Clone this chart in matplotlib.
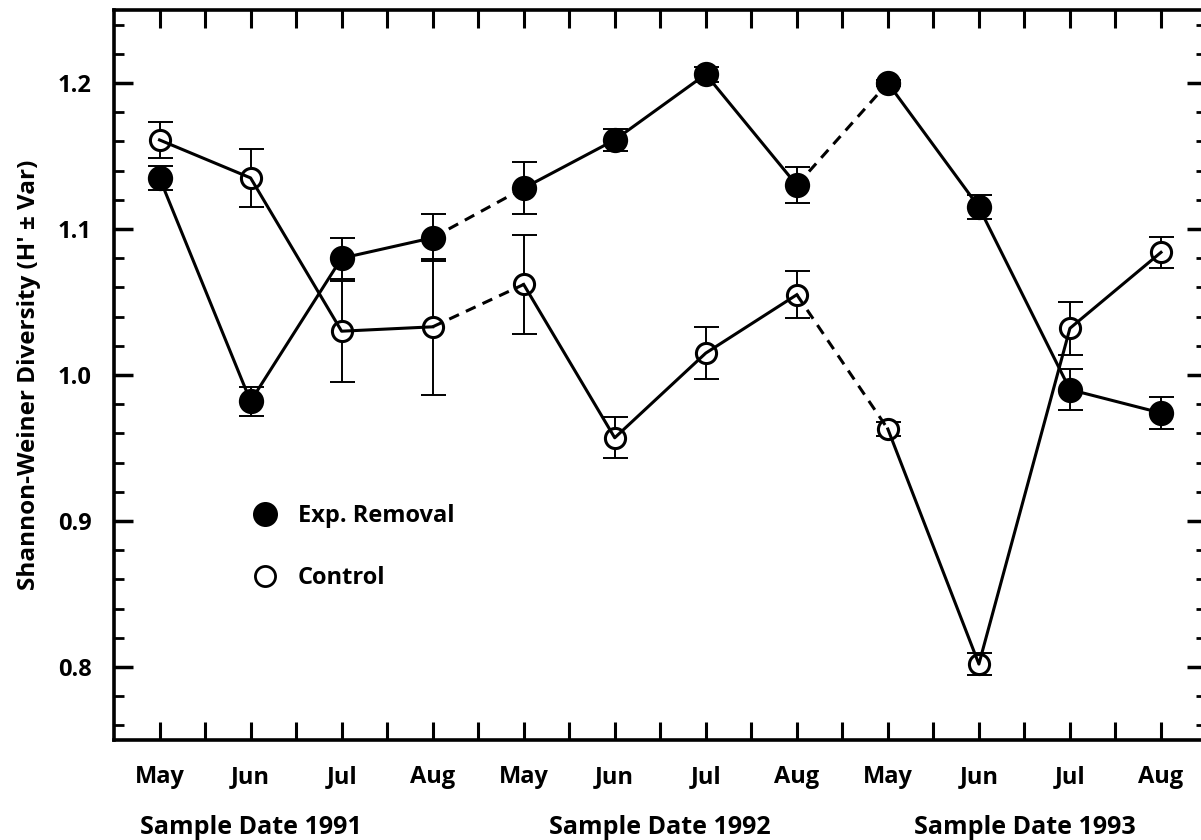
import numpy as np
import matplotlib.pyplot as plt
from matplotlib.lines import Line2D

plt.rcParams['font.family'] = ['Open Sans', 'DejaVu Sans']
plt.rcParams['font.weight'] = 'bold'

# данные
months = ["May", "Jun", "Jul", "Aug"] * 3
year_labels = ["Sample Date 1991", "Sample Date 1992", "Sample Date 1993"]
year_pos = [1.0, 5.5, 9.5]

removal = [1.135, 0.982, 1.080, 1.094, 1.128, 1.161, 1.206, 1.130, 1.200, 1.115, 0.990, 0.974]
removal_var = [0.008, 0.010, 0.014, 0.016, 0.018, 0.0076, 0.005, 0.0124, 0.002, 0.008, 0.014, 0.011]

control = [1.161, 1.135, 1.030, 1.033, 1.062, 0.957, 1.015, 1.055, 0.963, 0.802, 1.032, 1.084]
control_var = [0.0124, 0.020, 0.0345, 0.0466, 0.034, 0.014, 0.018, 0.016, 0.005, 0.0076, 0.018, 0.0107]

x = np.arange(len(months))

fig = plt.figure(figsize=(12.01, 8.4), dpi=100)
ax = fig.add_axes([114 / 1201, 100 / 840, 1092.5 / 1201, 730 / 840])


def draw_series(y, yerr, filled):
    y = np.array(y)
    ax.errorbar(x, y, yerr=yerr, fmt='none', ecolor='black', elinewidth=1.4,
                capsize=9, capthick=1.4, zorder=1)
    ax.plot(x, y, 'o', ms=16 if filled else 14.5, mfc='black' if filled else 'white',
            mec='black', mew=2.2, ls='none', zorder=2)
    # сплошные линии внутри года, пунктир между годами
    for s in (0, 4, 8):
        ax.plot(x[s:s + 4], y[s:s + 4], '-', color='black', lw=2.2, zorder=3)
    for s in (3, 7):
        ax.plot(x[s:s + 2], y[s:s + 2], '--', color='black', lw=2.2,
                dashes=(3.5, 2.5), zorder=3)


draw_series(removal, removal_var, True)
draw_series(control, control_var, False)

ax.set_xlim(-0.5, 11.5)
ax.set_ylim(0.75, 1.25)

ax.set_xticks(x)
ax.set_xticklabels(months)
ax.set_xticks(np.arange(-0.5, 11.5, 1.0) + 1.0, minor=True)
ax.set_yticks([0.8, 0.9, 1.0, 1.1, 1.2])
ax.set_yticklabels(["0.8", "0.9", "1.0", "1.1", "1.2"])
ax.set_yticks(np.arange(0.76, 1.25, 0.02), minor=True)

ax.tick_params(axis='x', which='both', direction='in', top=True, length=13, width=2.2,
               pad=18, labelsize=17)
ax.tick_params(axis='y', which='major', direction='in', right=True, length=14, width=2.5,
               pad=16, labelsize=17)
ax.tick_params(axis='y', which='minor', direction='in', right=True, length=7, width=2.0)

for sp in ax.spines.values():
    sp.set_linewidth(2.6)

for lab, pos in zip(year_labels, year_pos):
    ax.text(pos, -0.12, lab, transform=ax.get_xaxis_transform(), ha='center', va='center',
            fontsize=18, fontweight='bold')

ax.set_ylabel("Shannon-Weiner Diversity (H' \u00b1 Var)", fontsize=17.5, fontweight='bold',
              labelpad=12)

handles = [
    Line2D([], [], marker='o', ls='none', ms=16, mfc='black', mec='black', mew=2),
    Line2D([], [], marker='o', ls='none', ms=14.5, mfc='white', mec='black', mew=2),
]
ax.legend(handles, ["Exp. Removal", "Control"], loc='upper left',
          bbox_to_anchor=(0.097, 0.352), frameon=False,
          handletextpad=0.4, labelspacing=1.6, prop={'weight': 'bold', 'size': 17})

fig.savefig("out.png", dpi=100)
